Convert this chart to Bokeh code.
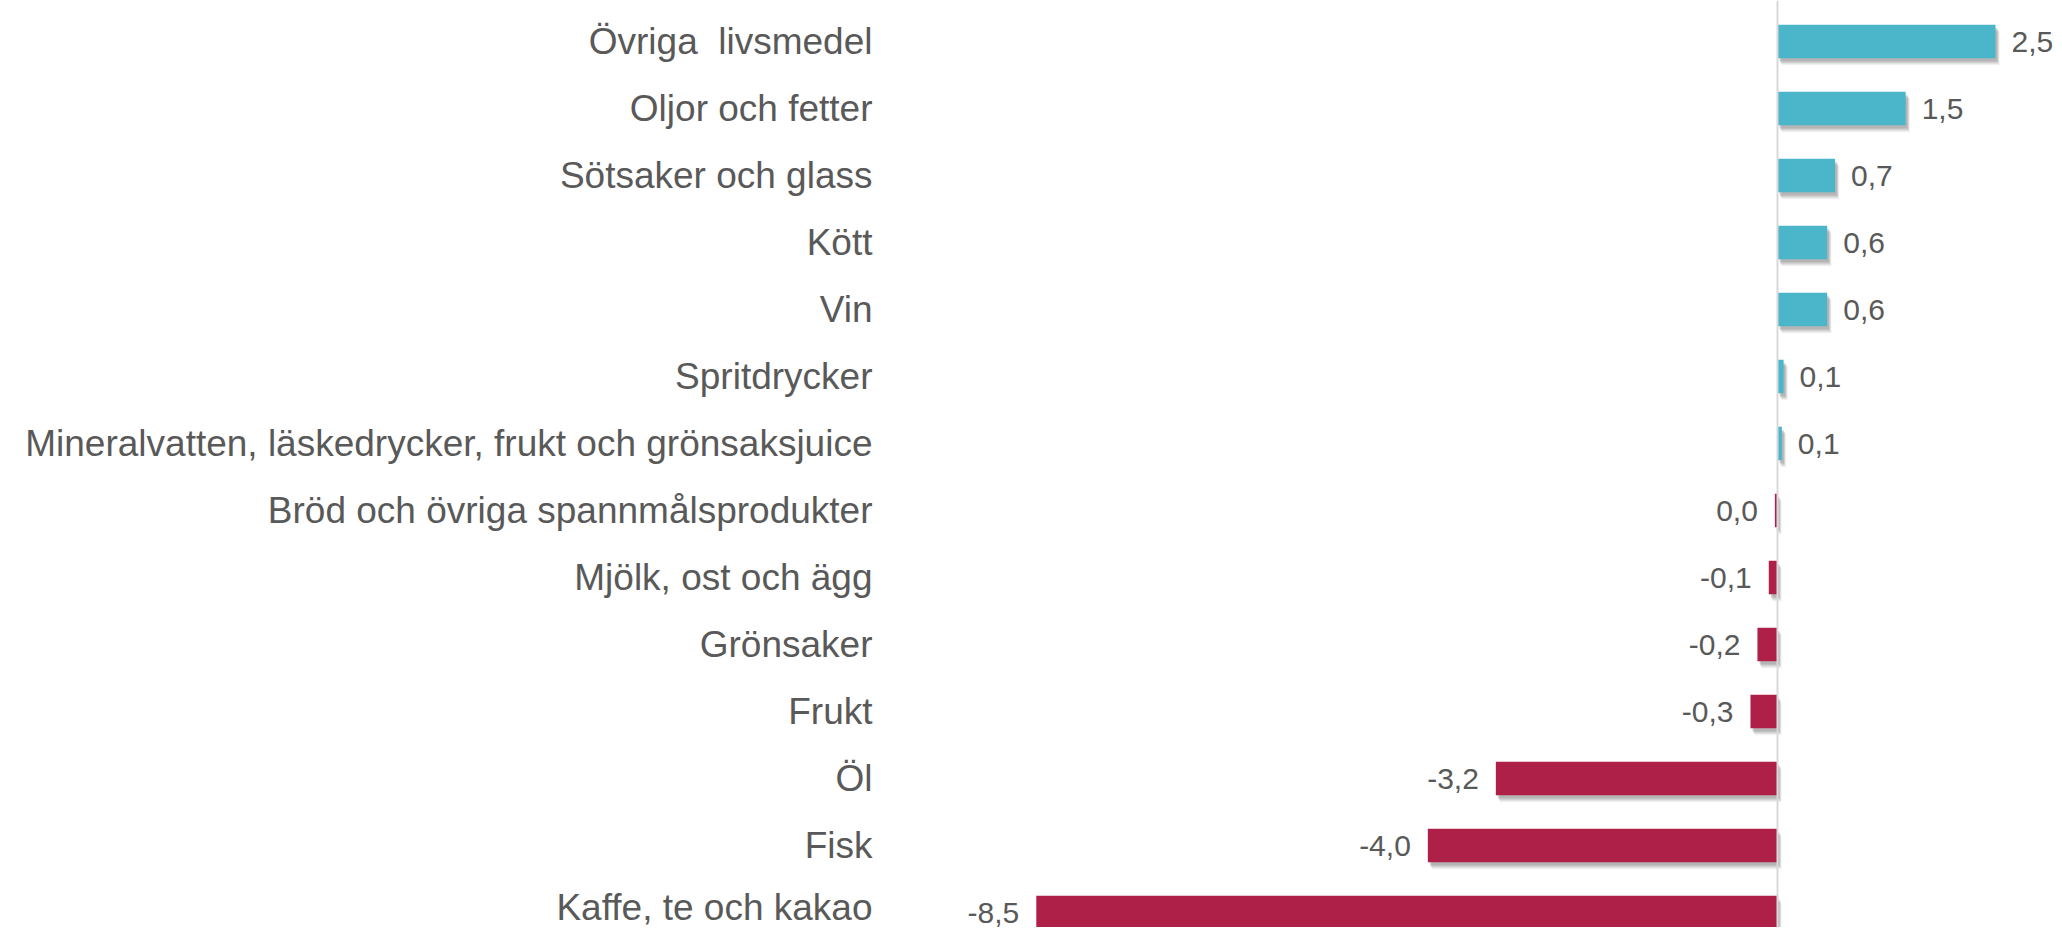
from bokeh.plotting import figure
from bokeh.models import ColumnDataSource, Range1d, FixedTicker, Span
from bokeh.core.properties import value
from bokeh.embed import file_html
from bokeh.resources import INLINE

categories = [
    "Övriga \u00a0livsmedel",
    "Oljor och fetter",
    "Sötsaker och glass",
    "Kött",
    "Vin",
    "Spritdrycker",
    "Mineralvatten, läskedrycker, frukt och grönsaksjuice",
    "Bröd och övriga spannmålsprodukter",
    "Mjölk, ost och ägg",
    "Grönsaker",
    "Frukt",
    "Öl",
    "Fisk",
    "Kaffe, te och kakao",
]
values = [2.5, 1.47, 0.66, 0.57, 0.57, 0.07, 0.05, -0.03, -0.1, -0.23, -0.31, -3.23, -4.01, -8.5]
labels = ["2,5", "1,5", "0,7", "0,6", "0,6", "0,1", "0,1", "0,0", "-0,1", "-0,2", "-0,3", "-3,2", "-4,0", "-8,5"]

POS = "#4BB6C9"
NEG = "#AE2048"
TXT = "#595959"
FONT = "Liberation Sans"

n = len(categories)
ypos = [n - 1 - i for i in range(n)]
colors = [POS if v >= 0 else NEG for v in values]

W, H = 2054, 927
px_x = 87.2   # pixels per unit on x
px_y = 67.0   # pixels per row
left_border = 890
frame_w = W - left_border
x0_page = 1777 - left_border  # zero position inside frame
x_start = -x0_page / px_x
x_end = (frame_w - x0_page) / px_x
y_end = (n - 1) + 41 / px_y
y_start = y_end - H / px_y

p = figure(width=W, height=H, output_backend="svg", toolbar_location=None,
           x_range=Range1d(x_start, x_end), y_range=Range1d(y_start, y_end),
           min_border_left=left_border, min_border_right=0, min_border_top=0, min_border_bottom=0)
p.outline_line_color = None
p.background_fill_color = "white"
p.border_fill_color = "white"
p.xgrid.visible = False
p.ygrid.visible = False
p.xaxis.visible = False

p.yaxis.ticker = FixedTicker(ticks=ypos)
p.yaxis.major_label_overrides = {y: c for y, c in zip(ypos, categories)}
p.yaxis.axis_line_color = None
p.yaxis.major_tick_line_color = None
p.yaxis.minor_tick_line_color = None
p.yaxis.major_tick_in = 0
p.yaxis.major_tick_out = 0
p.yaxis.major_label_standoff = 18
p.yaxis.major_label_text_font = FONT
p.yaxis.major_label_text_font_size = "37px"
p.yaxis.major_label_text_color = TXT

# zero line
p.add_layout(Span(location=0, dimension="height", line_color="#D9D9D9", line_width=2))

src = ColumnDataSource(dict(y=ypos, v=values, zero=[0] * n, color=colors, label=labels))

# soft drop shadow (a few offset translucent layers)
for k, a in [(7, 0.08), (6, 0.10), (5, 0.13), (4, 0.16), (3, 0.18)]:
    dx = k / px_x
    dy = k / px_y
    sh = ColumnDataSource(dict(
        y=[y - dy for y in ypos],
        l=[min(v, 0) + dx * 0.6 for v in values],
        r=[max(v, 0) + dx * 0.6 for v in values],
    ))
    p.hbar(y="y", left="l", right="r", height=0.5, source=sh,
           fill_color="#6F6F6F", fill_alpha=a, line_color=None)

p.hbar(y="y", left="zero", right="v", height=0.5, source=src,
       fill_color="color", line_color=None)

pos_idx = [i for i, v in enumerate(values) if v >= 0]
neg_idx = [i for i, v in enumerate(values) if v < 0]
lab_pos = ColumnDataSource(dict(x=[values[i] for i in pos_idx], y=[ypos[i] for i in pos_idx],
                                t=[labels[i] for i in pos_idx]))
lab_neg = ColumnDataSource(dict(x=[values[i] for i in neg_idx], y=[ypos[i] for i in neg_idx],
                                t=[labels[i] for i in neg_idx]))
p.text(x="x", y="y", text="t", source=lab_pos, x_offset=16, text_align="left",
       text_baseline="middle", text_font=value(FONT), text_font_size="30px", text_color=TXT)
p.text(x="x", y="y", text="t", source=lab_neg, x_offset=-17, text_align="right",
       text_baseline="middle", text_font=value(FONT), text_font_size="30px", text_color=TXT)

open("out.html", "w").write(file_html(p, INLINE))
